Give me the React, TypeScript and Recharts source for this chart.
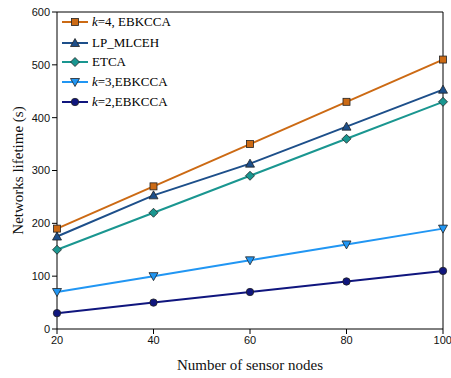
import { CartesianGrid, Line, LineChart, ReferenceLine, XAxis, YAxis } from "recharts";

const nodes = [20, 40, 60, 80, 100];
const k4 = [190, 270, 350, 430, 510];
const lpMlceh = [175, 253, 313, 383, 453];
const etca = [150, 220, 290, 360, 430];
const k3 = [70, 100, 130, 160, 190];
const k2 = [30, 50, 70, 90, 110];
const yTicks = [0, 100, 200, 300, 400, 500, 600];

type Shape = "square" | "triangle" | "diamond" | "down" | "circle";

interface Series {
  key: string;
  values: number[];
  color: string;
  shape: Shape;
  k?: string;
  label: string;
}

const series: Series[] = [
  { key: "k4", values: k4, color: "#cc6a14", shape: "square", k: "k", label: "=4, EBKCCA" },
  { key: "lp", values: lpMlceh, color: "#1d4f8a", shape: "triangle", label: " LP_MLCEH" },
  { key: "etca", values: etca, color: "#1a9690", shape: "diamond", label: " ETCA" },
  { key: "k3", values: k3, color: "#2196f3", shape: "down", k: "k", label: "=3,EBKCCA" },
  { key: "k2", values: k2, color: "#10167e", shape: "circle", k: "k", label: "=2,EBKCCA" },
];

const data = nodes.map((n, i) => {
  const row: Record<string, number> = { n };
  series.forEach((s) => (row[s.key] = s.values[i]));
  return row;
});

function Marker({ cx, cy, shape, color }: { cx: number; cy: number; shape: Shape; color: string }) {
  const st = { fill: color, stroke: "#222", strokeWidth: 0.8 };
  if (shape === "square") return <rect x={cx - 3.5} y={cy - 3.5} width={7} height={7} {...st} />;
  if (shape === "triangle")
    return <polygon points={`${cx},${cy - 4.5} ${cx + 4.5},${cy + 3.5} ${cx - 4.5},${cy + 3.5}`} {...st} />;
  if (shape === "down")
    return <polygon points={`${cx - 4.5},${cy - 3.5} ${cx + 4.5},${cy - 3.5} ${cx},${cy + 4.5}`} {...st} />;
  if (shape === "diamond")
    return <polygon points={`${cx},${cy - 4.5} ${cx + 4.5},${cy} ${cx},${cy + 4.5} ${cx - 4.5},${cy}`} {...st} />;
  return <circle cx={cx} cy={cy} r={3.7} {...st} />;
}

function Legend() {
  const tops = [15, 36, 55, 75, 95];
  return (
    <div style={{ position: "absolute", left: 62, top: 0, fontFamily: "'Liberation Serif', serif", fontSize: 13 }}>
      {series.map((s, i) => (
        <div key={s.key} style={{ position: "absolute", top: tops[i], left: 0, display: "flex", alignItems: "center", whiteSpace: "nowrap", height: 14 }}>
          <svg width={26} height={14} style={{ marginRight: 4 }}>
            <line x1={0} x2={26} y1={7} y2={7} stroke={s.color} strokeWidth={2} />
            <Marker cx={13} cy={7} shape={s.shape} color={s.color} />
          </svg>
          <span>
            {s.k && <i>{s.k}</i>}
            {s.label}
          </span>
        </div>
      ))}
    </div>
  );
}

export default function App() {
  return (
    <div style={{ position: "absolute", left: 0, top: 0, width: 451, height: 378, background: "#fff" }}>
      <LineChart width={451} height={378} data={data} margin={{ top: 12, right: 8, bottom: 0, left: 0 }}>
        <CartesianGrid stroke="none" />
        <XAxis
          dataKey="n"
          type="number"
          domain={[20, 100]}
          ticks={nodes}
          height={49}
          stroke="#000"
          tickSize={5}
          tick={{ fontSize: 11, fill: "#111", fontFamily: "'Liberation Sans', Arial, sans-serif" }}
          label={{ value: "Number of sensor nodes", position: "insideBottom", offset: 8, fontSize: 15, fill: "#111", fontFamily: "'Liberation Serif', serif" }}
        />
        <YAxis
          domain={[0, 600]}
          ticks={yTicks}
          width={57}
          stroke="#000"
          tickSize={5}
          tick={{ fontSize: 11, fill: "#111", fontFamily: "'Liberation Sans', Arial, sans-serif" }}
          label={{ value: "Networks lifetime (s)", angle: -90, position: "insideLeft", offset: 18, fontSize: 15, fill: "#111", fontFamily: "'Liberation Serif', serif", style: { textAnchor: "middle" } }}
        />
        <ReferenceLine y={600} stroke="#000" />
        <ReferenceLine x={100} stroke="#000" />
        {series.map((s) => (
          <Line
            key={s.key}
            dataKey={s.key}
            stroke={s.color}
            strokeWidth={2}
            isAnimationActive={false}
            dot={(p: any) => <Marker key={p.index} cx={p.cx} cy={p.cy} shape={s.shape} color={s.color} />}
            activeDot={false}
          />
        ))}
      </LineChart>
      <Legend />
    </div>
  );
}
